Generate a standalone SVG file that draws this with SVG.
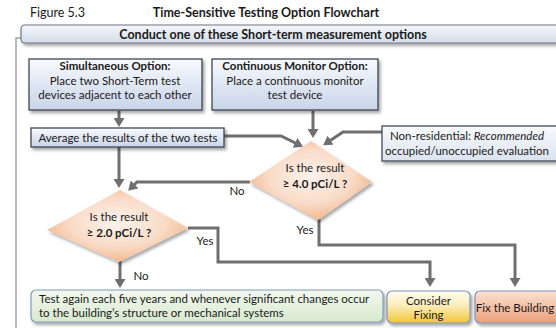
<svg xmlns="http://www.w3.org/2000/svg" width="556" height="328" viewBox="0 0 556 328">
<style>
text{font-family:Lato,"Liberation Sans",sans-serif;fill:#1a1a1a;font-size:11.5px}
.b{font-weight:bold}
.c{text-anchor:middle}
.conn{fill:none;stroke:#6f6f6f;stroke-width:3}
.lbl{font-size:11.5px}
</style>
<defs>
<linearGradient id="gBlue" x1="0" y1="0" x2="0" y2="1"><stop offset="0" stop-color="#f8fafd"/><stop offset="1" stop-color="#c8d4e9"/></linearGradient>
<linearGradient id="gHead" x1="0" y1="0" x2="0" y2="1"><stop offset="0" stop-color="#f6f8fb"/><stop offset="1" stop-color="#d3dcea"/></linearGradient>
<linearGradient id="gNon" x1="0" y1="0" x2="0" y2="1"><stop offset="0" stop-color="#f8fafd"/><stop offset="1" stop-color="#dbe3f0"/></linearGradient>
<linearGradient id="gGreen" x1="0" y1="0" x2="0" y2="1"><stop offset="0" stop-color="#f2f8ee"/><stop offset="1" stop-color="#d8e9cf"/></linearGradient>
<linearGradient id="gYel" x1="0" y1="0" x2="0" y2="1"><stop offset="0" stop-color="#fffdf2"/><stop offset="0.5" stop-color="#fbeab0"/><stop offset="1" stop-color="#f2c535"/></linearGradient>
<linearGradient id="gFix" x1="0" y1="0" x2="0" y2="1"><stop offset="0" stop-color="#fbe2d2"/><stop offset="1" stop-color="#eaa07c"/></linearGradient>
<radialGradient id="gDia" cx="0.5" cy="0.45" r="0.6"><stop offset="0" stop-color="#fdf3ec"/><stop offset="0.55" stop-color="#f9dcc8"/><stop offset="1" stop-color="#efb185"/></radialGradient>
<filter id="sh" x="-10%" y="-20%" width="130%" height="150%"><feDropShadow dx="2" dy="2.5" stdDeviation="1.5" flood-color="#000" flood-opacity="0.35"/></filter>
<marker id="ah" viewBox="0 0 9 11" markerWidth="9" markerHeight="11" refX="5" refY="5.5" orient="auto" markerUnits="userSpaceOnUse"><path d="M0,0 L9,5.5 L0,11 z" fill="#6f6f6f"/></marker>
</defs>

<g id="titles">
<text x="30" y="17" style="font-size:12.5px">Figure 5.3</text>
<text x="266" y="17" class="b c" style="font-size:12.5px">Time-Sensitive Testing Option Flowchart</text>
</g>

<g id="frame">
<path d="M16,328 V38 H22" fill="none" stroke="#a3a3a3" stroke-width="1.5"/>
</g>

<g id="header">
<rect x="21" y="25" width="545" height="18" rx="4" fill="url(#gHead)" stroke="#6e7382" stroke-width="1.2" filter="url(#sh)"/>
<text x="273" y="38.5" class="b c" style="font-size:12.5px">Conduct one of these Short-term measurement options</text>
</g>

<g id="connectors">
<path class="conn" d="M119,111 V123" marker-end="url(#ah)"/>
<path class="conn" d="M224,136 H281 L299.5,145" marker-end="url(#ah)"/>
<path class="conn" d="M313,111 V134" marker-end="url(#ah)"/>
<path class="conn" d="M382,132 H343 L326.5,143" marker-end="url(#ah)"/>
<path class="conn" d="M250,182 H137 L131,188" marker-end="url(#ah)"/>
<path class="conn" d="M119,147 V184" marker-end="url(#ah)"/>
<path class="conn" d="M319,219 V245 H515 V283" marker-end="url(#ah)"/>
<path class="conn" d="M188,228 H218 V262 H430 V283" marker-end="url(#ah)"/>
<path class="conn" d="M120,261 V284" marker-end="url(#ah)"/>
<text x="237" y="195" class="c lbl">No</text>
<text x="305" y="234" class="c lbl">Yes</text>
<text x="205" y="245" class="c lbl">Yes</text>
<text x="141" y="280" class="c lbl">No</text>
</g>

<g id="simultaneous">
<rect x="29" y="59" width="173" height="51" fill="url(#gBlue)" stroke="#3e4654" stroke-width="1.3" filter="url(#sh)"/>
<text x="115" y="70" class="b c">Simultaneous Option:</text>
<text x="115" y="84.5" class="c">Place two Short-Term test</text>
<text x="115" y="99" class="c">devices adjacent to each other</text>
</g>

<g id="continuous">
<rect x="212" y="59" width="166" height="51" fill="url(#gBlue)" stroke="#3e4654" stroke-width="1.3" filter="url(#sh)"/>
<text x="295" y="70" class="b c">Continuous Monitor Option:</text>
<text x="295" y="84.5" class="c">Place a continuous monitor</text>
<text x="295" y="99" class="c">test device</text>
</g>

<g id="average">
<rect x="31" y="128" width="193" height="19" fill="url(#gBlue)" stroke="#3e4654" stroke-width="1.3" filter="url(#sh)"/>
<text x="128" y="141.5" class="c">Average the results of the two tests</text>
</g>

<g id="nonres">
<rect x="382" y="126" width="180" height="35" fill="url(#gNon)" stroke="#444c5a" stroke-width="1.3" filter="url(#sh)"/>
<text x="467" y="140" class="c">Non-residential: <tspan font-style="italic">Recommended</tspan></text>
<text x="467" y="154.5" class="c">occupied/unoccupied evaluation</text>
</g>

<g id="decision1">
<polygon points="311,141 372,182 318,220 249,182" fill="url(#gDia)" filter="url(#sh)"/>
<text x="315" y="172" class="c">Is the result</text>
<text x="315" y="188" class="b c">≥ 4.0 pCi/L ?</text>
</g>

<g id="decision2">
<polygon points="120,190 188,228 119,262 47,230" fill="url(#gDia)" filter="url(#sh)"/>
<text x="119" y="221" class="c">Is the result</text>
<text x="119" y="237" class="b c">≥ 2.0 pCi/L  ?</text>
</g>

<g id="testagain">
<rect x="31" y="290" width="352" height="32" rx="5" fill="url(#gGreen)" stroke="#7f9db8" stroke-width="1.2" filter="url(#sh)"/>
<text x="39" y="302.5">Test again each five years and whenever significant changes occur</text>
<text x="39" y="316.5">to the building’s structure or mechanical systems</text>
</g>

<g id="consider">
<rect x="387" y="291" width="83" height="32" rx="5" fill="url(#gYel)" stroke="#7f95b8" stroke-width="1.2" filter="url(#sh)"/>
<text x="428.5" y="304.5" class="c">Consider</text>
<text x="428.5" y="318.5" class="c">Fixing</text>
</g>

<g id="fix">
<rect x="475" y="291" width="90" height="32" rx="5" fill="url(#gFix)" stroke="#8094b4" stroke-width="1.2" filter="url(#sh)"/>
<text x="515" y="311.5" class="c">Fix the Building</text>
</g>
</svg>
